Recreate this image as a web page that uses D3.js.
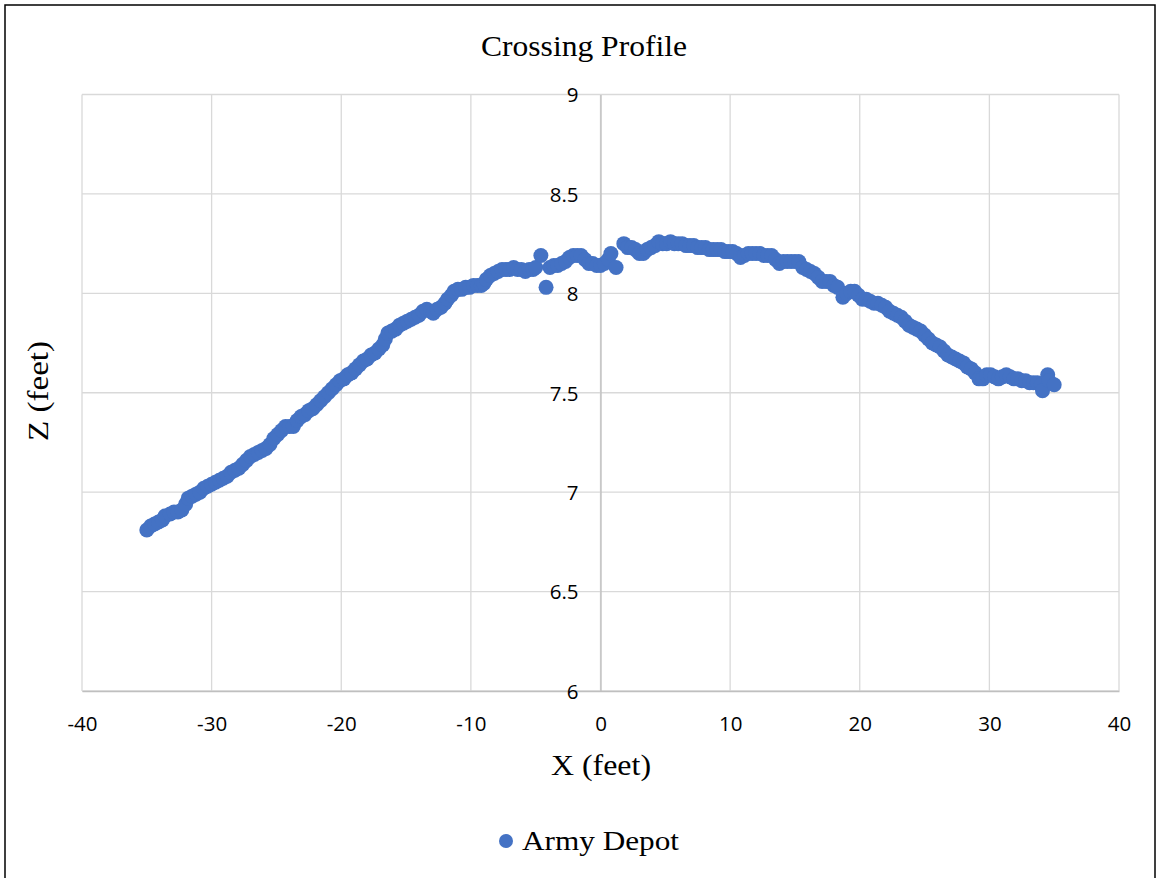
<!DOCTYPE html>
<html>
<head>
<meta charset="utf-8">
<script src="https://cdn.jsdelivr.net/npm/d3@7"></script>
<style>
  html, body { margin: 0; padding: 0; background: #fff; }
  svg { display: block; }
</style>
</head>
<body>
<script>
// ---- Data ----
const seriesName = "Army Depot";
const xValues = [
-35.0,-34.7,-34.4,-34.1,-33.8,-33.6,-33.2,-32.9,-32.6,-32.3,-32.0,-31.8,-31.5,-31.2,-30.9,-30.6,-30.3,-30.0,
-29.7,-29.4,-29.1,-28.8,-28.5,-28.2,-27.9,-27.6,-27.3,-27.0,-26.7,-26.4,-26.1,-25.8,-25.5,-25.2,-24.9,-24.6,
-24.3,-24.0,-23.7,-23.4,-23.1,-22.8,-22.5,-22.2,-21.9,-21.6,-21.3,-21.0,-20.7,-20.4,-20.1,-19.8,-19.5,-19.2,
-18.9,-18.6,-18.3,-18.0,-17.7,-17.4,-17.1,-16.8,-16.6,-16.4,-16.1,-15.8,-15.5,-15.2,-14.9,-14.6,-14.3,-14.0,
-13.7,-13.4,-13.1,-12.9,-12.6,-12.3,-12.0,-11.8,-11.5,-11.3,-11.0,-10.7,-10.4,-10.1,-9.8,-9.5,-9.2,-9.0,
-8.8,-8.5,-8.2,-7.9,-7.6,-7.3,-7.0,-6.7,-6.4,-6.1,-5.8,-5.5,-5.2,-5.0,-4.6,-4.2,-3.9,-3.6,-3.3,-3.0,
-2.7,-2.4,-2.1,-1.8,-1.5,-1.2,-0.9,-0.6,-0.3,0.0,0.3,0.6,0.8,1.2,1.8,2.1,2.4,2.7,3.0,3.3,3.6,3.9,4.2,4.5,
4.8,5.1,5.4,5.7,6.0,6.3,6.6,6.9,7.2,7.5,7.8,8.1,8.4,8.7,9.0,9.3,9.6,9.9,10.2,10.5,10.8,11.1,11.4,11.7,
12.0,12.3,12.6,12.9,13.2,13.5,13.8,14.1,14.4,14.7,15.0,15.3,15.6,15.9,16.2,16.5,16.8,17.1,17.4,17.7,18.0,
18.3,18.7,19.0,19.3,19.6,19.9,20.2,20.5,20.8,21.1,21.4,21.7,22.0,22.3,22.6,22.9,23.2,23.5,23.8,24.1,24.4,
24.7,25.0,25.3,25.6,25.9,26.2,26.5,26.8,27.1,27.4,27.7,28.0,28.3,28.6,28.9,29.2,29.5,29.8,30.1,30.4,30.7,
31.0,31.3,31.6,31.9,32.2,32.5,32.8,33.1,33.4,33.7,34.0,34.1,34.5,34.6,35.0
];
const zValues = [
6.81,6.83,6.84,6.85,6.86,6.88,6.89,6.90,6.90,6.91,6.94,6.97,6.98,6.99,7.00,7.02,7.03,7.04,
7.05,7.06,7.07,7.08,7.10,7.11,7.12,7.14,7.16,7.18,7.19,7.20,7.21,7.22,7.24,7.27,7.29,7.31,
7.33,7.33,7.33,7.36,7.38,7.39,7.41,7.42,7.44,7.46,7.48,7.50,7.52,7.54,7.56,7.57,7.59,7.60,
7.62,7.64,7.66,7.67,7.69,7.70,7.72,7.74,7.77,7.80,7.81,7.82,7.84,7.85,7.86,7.87,7.88,7.89,
7.91,7.92,7.91,7.90,7.92,7.93,7.95,7.97,7.99,8.01,8.02,8.02,8.03,8.03,8.04,8.04,8.04,8.05,
8.07,8.09,8.10,8.11,8.12,8.12,8.12,8.13,8.12,8.12,8.11,8.12,8.12,8.13,8.19,8.03,8.13,8.14,8.14,8.15,
8.16,8.18,8.19,8.19,8.19,8.17,8.15,8.15,8.14,8.14,8.15,8.17,8.20,8.13,8.25,8.23,8.23,8.22,8.20,8.20,8.22,8.23,8.24,8.26,
8.25,8.25,8.26,8.25,8.25,8.25,8.24,8.24,8.24,8.23,8.23,8.23,8.22,8.22,8.22,8.22,8.21,8.21,8.21,8.20,8.18,8.19,8.20,8.20,
8.20,8.20,8.19,8.19,8.19,8.17,8.15,8.16,8.16,8.16,8.16,8.16,8.13,8.12,8.11,8.10,8.08,8.06,8.06,8.06,8.04,
8.03,7.98,8.00,8.01,8.01,7.99,7.97,7.97,7.96,7.95,7.95,7.94,7.93,7.91,7.90,7.89,7.88,7.86,7.84,7.83,7.82,
7.81,7.79,7.77,7.75,7.74,7.73,7.71,7.69,7.68,7.67,7.66,7.65,7.63,7.62,7.60,7.57,7.57,7.59,7.59,7.58,7.57,
7.58,7.59,7.58,7.57,7.57,7.56,7.56,7.55,7.55,7.55,7.54,7.51,7.59,7.56,7.54
];
const xTicks = [-40, -30, -20, -10, 0, 10, 20, 30, 40];
const yTicks = [6, 6.5, 7, 7.5, 8, 8.5, 9];
const title = "Crossing Profile";
const xTitle = "X (feet)";
const yTitle = "Z (feet)";

// ---- Layout ----
const W = 1158, H = 878;
const plot = { left: 82, right: 1119, top: 94.5, bottom: 691 };
const dotColor = "#4472C4";
const serif = "'Liberation Serif', 'Times New Roman', serif";
const sans = "'Open Sans', 'Liberation Sans', sans-serif";

const points = xValues.map((x, i) => ({ x, z: zValues[i] }));

const svg = d3.select("body").append("svg").attr("width", W).attr("height", H);
svg.append("rect").attr("width", W).attr("height", H).attr("fill", "#fff");

// outer frame
svg.append("rect")
  .attr("x", 5).attr("y", 5).attr("width", 1150).attr("height", 885)
  .attr("fill", "none").attr("stroke", "#000").attr("stroke-width", 1.5);

const x = d3.scaleLinear().domain([-40, 40]).range([plot.left, plot.right]);
const y = d3.scaleLinear().domain([6, 9]).range([plot.bottom, plot.top]);

// gridlines
const grid = svg.append("g");
grid.selectAll("line.v").data(xTicks).join("line")
  .attr("x1", d => x(d)).attr("x2", d => x(d))
  .attr("y1", plot.top).attr("y2", plot.bottom)
  .attr("stroke", "#d9d9d9").attr("stroke-width", 1.3);
grid.selectAll("line.h").data(yTicks).join("line")
  .attr("x1", plot.left).attr("x2", plot.right)
  .attr("y1", d => y(d)).attr("y2", d => y(d))
  .attr("stroke", "#d9d9d9").attr("stroke-width", 1.3);

const fmt = d => String(d); // plain hyphen-minus like the reference

// axes (x axis along z=6, y axis at x=0)
const xAxis = d3.axisBottom(x).tickValues(xTicks).tickSize(0).tickPadding(0).tickFormat(fmt);
const gx = svg.append("g").attr("transform", `translate(0,${y(6)})`).call(xAxis);
gx.select(".domain").attr("stroke", "#bfbfbf").attr("stroke-width", 1.3);
gx.selectAll("text").attr("y", 40).attr("dy", null)
  .attr("font-family", sans).attr("font-size", 20.5).attr("fill", "#000");

const yAxis = d3.axisLeft(y).tickValues(yTicks).tickSize(0).tickPadding(22).tickFormat(fmt);
const gy = svg.append("g").attr("transform", `translate(${x(0)},0)`).call(yAxis);
gy.select(".domain").attr("stroke", "#bfbfbf").attr("stroke-width", 1.3);
gy.selectAll("text").attr("dy", "0.36em")
  .attr("font-family", sans).attr("font-size", 20.5).attr("fill", "#000");

// points
svg.append("g").selectAll("circle").data(points).join("circle")
  .attr("cx", d => x(d.x)).attr("cy", d => y(d.z)).attr("r", 7.5)
  .attr("fill", dotColor);

// titles
svg.append("text").attr("x", 584).attr("y", 56).attr("text-anchor", "middle")
  .attr("font-family", serif).attr("font-size", 30).attr("fill", "#000")
  .attr("textLength", 206).attr("lengthAdjust", "spacingAndGlyphs")
  .text(title);
svg.append("text").attr("x", 601).attr("y", 775).attr("text-anchor", "middle")
  .attr("font-family", serif).attr("font-size", 29).attr("fill", "#000")
  .attr("textLength", 100).attr("lengthAdjust", "spacingAndGlyphs")
  .text(xTitle);
svg.append("text").attr("transform", "translate(48,391) rotate(-90)").attr("text-anchor", "middle")
  .attr("font-family", serif).attr("font-size", 29).attr("fill", "#000")
  .attr("textLength", 100).attr("lengthAdjust", "spacingAndGlyphs")
  .text(yTitle);

// legend
const leg = svg.append("g");
leg.append("circle").attr("cx", 506).attr("cy", 841).attr("r", 7).attr("fill", dotColor);
leg.append("text").attr("x", 522).attr("y", 850)
  .attr("font-family", serif).attr("font-size", 28).attr("fill", "#000")
  .attr("textLength", 157).attr("lengthAdjust", "spacingAndGlyphs")
  .text(seriesName);
</script>
</body>
</html>
